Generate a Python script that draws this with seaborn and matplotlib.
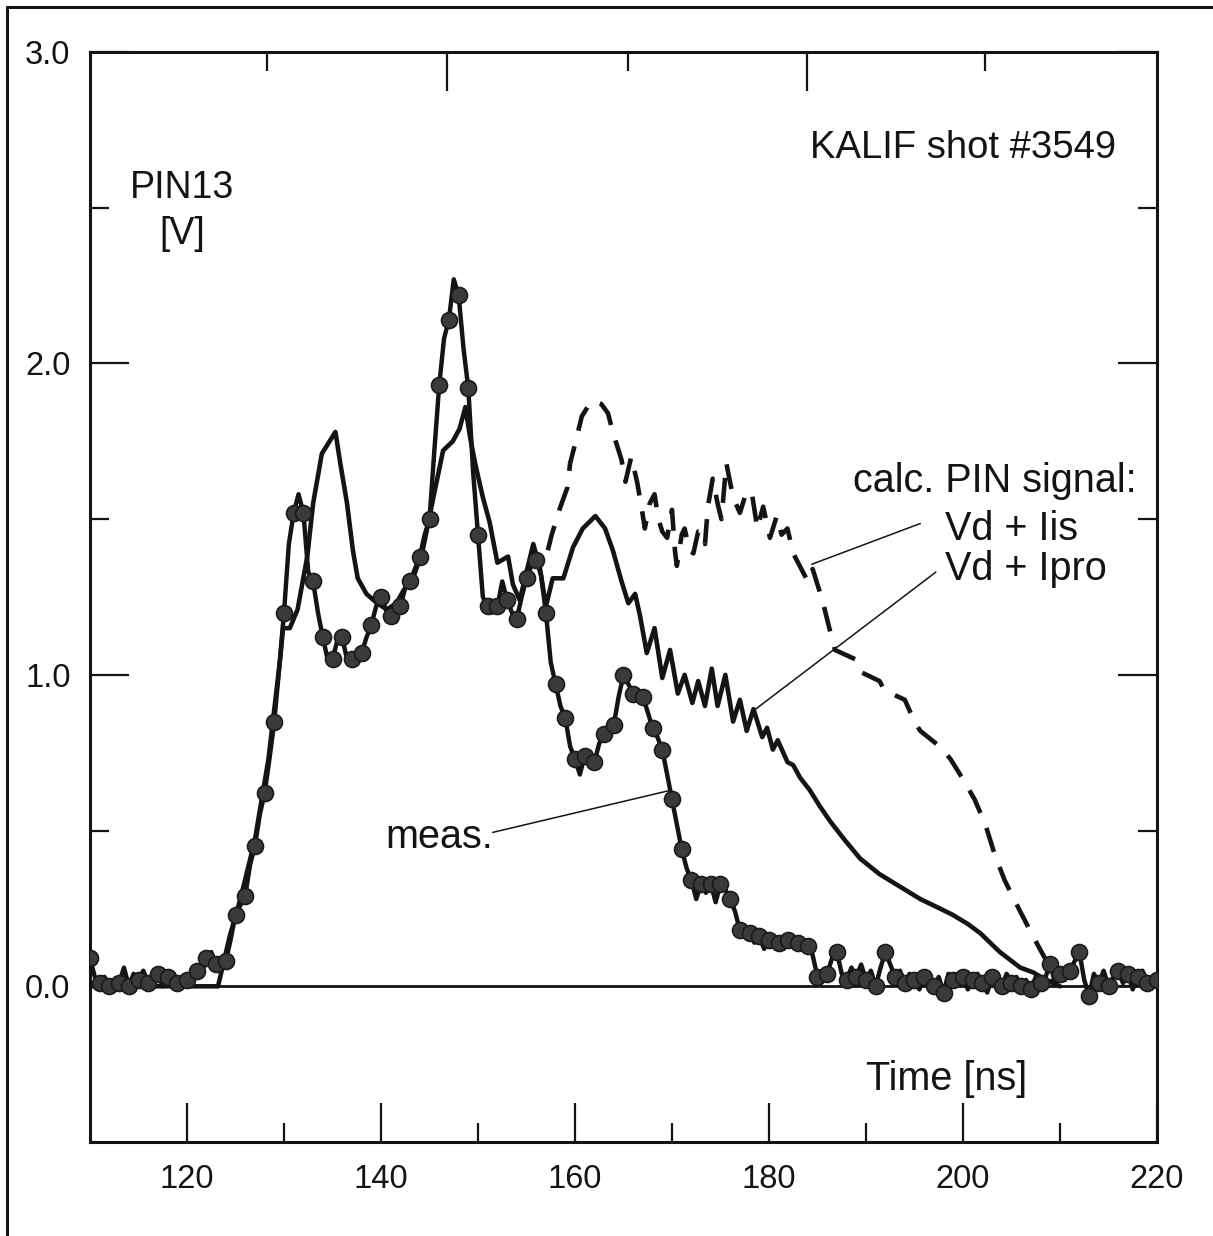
import numpy as np
import pandas as pd
import matplotlib
matplotlib.use("Agg")
import matplotlib.pyplot as plt
from matplotlib.lines import Line2D
from matplotlib.ticker import FixedLocator, NullFormatter
import seaborn as sns

# ---------------- data ----------------
# measured PIN13 signal, sampled every 0.5 ns from 110 to 220 ns
meas_time = np.linspace(110, 220, 221)
meas_volt = [
    0.09, 0.03, 0.01, 0.03, 0.00, 0.02, 0.01, 0.06, 0.00, 0.04, 0.02, 0.05, 0.01, 0.03, 0.04, 0.00, 0.03, 0.02, 0.01, 0.03,
    0.02, 0.02, 0.05, 0.04, 0.09, 0.11, 0.07, 0.09, 0.08, 0.15, 0.23, 0.26, 0.29, 0.39, 0.45, 0.55, 0.62, 0.73, 0.85, 1.02,
    1.20, 1.42, 1.52, 1.58, 1.52, 1.33, 1.30, 1.20, 1.12, 1.05, 1.05, 1.11, 1.12, 1.05, 1.05, 1.07, 1.07, 1.12, 1.16, 1.22,
    1.25, 1.21, 1.19, 1.17, 1.22, 1.28, 1.30, 1.34, 1.38, 1.45, 1.50, 1.72, 1.93, 2.08, 2.14, 2.27, 2.22, 2.05, 1.92, 1.65,
    1.45, 1.25, 1.22, 1.20, 1.22, 1.30, 1.24, 1.20, 1.18, 1.25, 1.31, 1.35, 1.37, 1.32, 1.20, 1.04, 0.97, 0.90, 0.86, 0.77,
    0.73, 0.68, 0.74, 0.71, 0.72, 0.78, 0.81, 0.82, 0.84, 0.93, 1.00, 0.97, 0.94, 0.95, 0.93, 0.88, 0.83, 0.80, 0.76, 0.68,
    0.60, 0.52, 0.44, 0.38, 0.34, 0.28, 0.33, 0.30, 0.33, 0.27, 0.33, 0.31, 0.28, 0.24, 0.18, 0.16, 0.17, 0.14, 0.16, 0.12,
    0.15, 0.13, 0.14, 0.12, 0.15, 0.13, 0.14, 0.12, 0.13, 0.10, 0.03, 0.05, 0.04, 0.09, 0.11, 0.04, 0.02, 0.06, 0.03, 0.07,
    0.02, 0.05, 0.00, 0.06, 0.11, 0.07, 0.03, 0.05, 0.01, 0.04, 0.02, -0.01, 0.03, 0.04, 0.00, 0.03, -0.02, 0.04, 0.02, 0.01,
    0.03, -0.01, 0.02, 0.04, 0.01, -0.02, 0.03, 0.02, 0.00, 0.04, 0.01, 0.03, 0.00, 0.02, -0.01, 0.03, 0.01, 0.03, 0.07, 0.01,
    0.04, 0.02, 0.05, 0.08, 0.11, 0.02, -0.03, 0.04, 0.01, 0.05, 0.00, 0.03, 0.05, 0.01, 0.04, -0.01, 0.03, 0.05, 0.01, 0.03,
    0.02,
]

# calculated signal: part common to both calculations
calc_common_time = [110.0, 123.2, 124.4, 125.5, 127.0, 128.4, 129.6, 129.9, 130.6, 131.4, 132.4, 133.0,
                    133.9, 134.5, 135.3, 135.8, 136.5, 137.1, 137.6, 138.5, 139.6, 140.6, 141.6, 142.3,
                    143.3, 144.3, 145.4, 146.4, 147.4, 148.1, 148.7, 149.2, 149.7, 150.5, 151.2, 152.0,
                    153.1, 153.6, 154.3, 155.7, 156.4]
calc_common_volt = [0.00, 0.00, 0.16, 0.28, 0.47, 0.73, 1.05, 1.15, 1.15, 1.21, 1.38, 1.55,
                    1.71, 1.74, 1.78, 1.68, 1.55, 1.40, 1.31, 1.26, 1.23, 1.21, 1.23, 1.27,
                    1.31, 1.40, 1.57, 1.72, 1.75, 1.79, 1.86, 1.76, 1.68, 1.57, 1.49, 1.36,
                    1.38, 1.29, 1.24, 1.42, 1.34]

# Vd + Ipro (solid) after the split
ipro_time = [157.0, 157.7, 158.8, 159.8, 160.8, 162.1, 163.1, 163.9, 164.8, 165.5, 166.2, 166.7,
             167.4, 168.2, 169.0, 169.8, 170.6, 171.3, 172.1, 172.7, 173.4, 174.1, 174.7, 175.5,
             176.3, 177.0, 177.7, 178.4, 179.3, 179.8, 180.4, 180.9, 181.9, 182.5, 183.2, 184.2,
             185.2, 186.3, 187.8, 189.4, 191.4, 193.5, 195.6, 197.6, 198.9, 200.5, 201.8, 203.8,
             205.9, 207.2, 208.6, 210.0]
ipro_volt = [1.22, 1.31, 1.31, 1.41, 1.47, 1.51, 1.47, 1.40, 1.30, 1.23, 1.26, 1.19,
             1.07, 1.15, 0.99, 1.08, 0.94, 1.00, 0.91, 0.98, 0.90, 1.02, 0.90, 1.00,
             0.85, 0.92, 0.82, 0.89, 0.80, 0.83, 0.76, 0.79, 0.72, 0.71, 0.67, 0.63,
             0.58, 0.53, 0.47, 0.41, 0.36, 0.32, 0.28, 0.25, 0.23, 0.20, 0.17, 0.11,
             0.06, 0.045, 0.02, 0.00]

# Vd + Iis (dashed) after the split
iis_time = [157.2, 157.6, 158.5, 159.2, 159.5, 160.0, 160.7, 161.5, 161.9, 162.7, 163.4, 163.9,
            164.8, 165.2, 165.8, 166.4, 166.9, 167.2, 167.7, 168.2, 168.6, 169.0, 169.5, 170.0,
            170.3, 170.5, 171.0, 171.3, 171.8, 172.2, 172.7, 173.1, 173.4, 173.7, 174.2, 174.7,
            175.1, 175.6, 176.3, 177.0, 177.6, 178.2, 178.8, 179.4, 180.1, 180.8, 181.3, 181.9,
            182.5, 183.5, 184.0, 184.5, 185.5, 186.3, 186.8, 188.9, 189.4, 191.4, 191.9, 194.0,
            195.0, 195.6, 197.6, 198.7, 199.7, 201.2, 202.3, 203.3, 204.3, 205.9, 207.4, 208.8,
            209.4]
iis_volt = [1.40, 1.45, 1.54, 1.60, 1.68, 1.74, 1.83, 1.87, 1.88, 1.87, 1.84, 1.78,
            1.69, 1.62, 1.70, 1.62, 1.53, 1.47, 1.55, 1.58, 1.50, 1.46, 1.44, 1.53,
            1.40, 1.35, 1.45, 1.47, 1.40, 1.39, 1.46, 1.46, 1.42, 1.54, 1.63, 1.55,
            1.50, 1.68, 1.57, 1.52, 1.58, 1.59, 1.47, 1.54, 1.44, 1.51, 1.45, 1.47,
            1.39, 1.33, 1.30, 1.34, 1.24, 1.14, 1.08, 1.05, 1.01, 0.98, 0.95, 0.92,
            0.85, 0.82, 0.77, 0.73, 0.68, 0.60, 0.52, 0.42, 0.34, 0.24, 0.15, 0.07,
            0.00]

x_major = [120, 140, 160, 180, 200, 220]
x_minor = [130, 150, 170, 190, 210]
x_labels = ["120", "140", "160", "180", "200", "220"]
top_major = [146.8, 183.9]
top_minor = [128.2, 165.5, 202.3]
y_major = [0.0, 1.0, 2.0, 3.0]
y_minor = [0.5, 1.5, 2.5]
y_labels = ["0.0", "1.0", "2.0", "3.0"]

# ---------------- figure ----------------
sns.set_theme(style="white")
plt.rcParams["font.family"] = ["Liberation Sans", "DejaVu Sans"]

INK = "#141414"
fig = plt.figure(figsize=(12.13, 12.36), dpi=100)
ax = fig.add_axes([90 / 1213, 1 - 1142 / 1236, (1157 - 90) / 1213, (1142 - 52) / 1236])

df_ipro = pd.DataFrame({"t": calc_common_time + ipro_time, "v": calc_common_volt + ipro_volt})
df_iis = pd.DataFrame({"t": iis_time, "v": iis_volt})
df_meas = pd.DataFrame({"t": meas_time, "v": meas_volt})

sns.lineplot(data=df_ipro, x="t", y="v", sort=False, estimator=None, ax=ax,
             color=INK, linewidth=3.3, zorder=3)
sns.lineplot(data=df_iis, x="t", y="v", sort=False, estimator=None, ax=ax,
             color=INK, linewidth=3.3, zorder=3)
ax.lines[-1].set_dashes((5.5, 3.5))
sns.lineplot(data=df_meas, x="t", y="v", sort=False, estimator=None, ax=ax,
             color=INK, linewidth=3.2, marker="o", markersize=11.5, markevery=2,
             markerfacecolor="#3a3a3a", markeredgecolor="#1a1a1a", markeredgewidth=1.2,
             zorder=4)

ax.axhline(0, color=INK, linewidth=2.0, zorder=2)

ax.set_xlim(110, 220)
ax.set_ylim(-0.5, 3.0)
ax.set_xlabel("")
ax.set_ylabel("")

# ticks
ax.xaxis.set_major_locator(FixedLocator(x_major))
ax.xaxis.set_minor_locator(FixedLocator(x_minor))
ax.set_xticklabels(x_labels)
ax.yaxis.set_major_locator(FixedLocator(y_major))
ax.yaxis.set_minor_locator(FixedLocator(y_minor))
ax.set_yticklabels(y_labels)
ax.tick_params(axis="both", which="both", direction="in", color=INK, width=1.6,
               bottom=True, left=True, right=True, top=False)
ax.tick_params(axis="both", which="major", length=28, labelsize=23.5, labelcolor=INK)
ax.tick_params(axis="both", which="minor", length=14)
ax.tick_params(axis="x", which="major", pad=16)
ax.tick_params(axis="y", which="major", pad=14)

sec = ax.secondary_xaxis("top")
sec.xaxis.set_major_locator(FixedLocator(top_major))
sec.xaxis.set_minor_locator(FixedLocator(top_minor))
sec.xaxis.set_major_formatter(NullFormatter())
sec.tick_params(axis="x", which="both", direction="in", color=INK, width=1.6, labeltop=False)
sec.tick_params(axis="x", which="major", length=28)
sec.tick_params(axis="x", which="minor", length=14)
sec.spines["top"].set_visible(False)

for s in ax.spines.values():
    s.set_color(INK)
    s.set_linewidth(2.2)

# texts
fs = 28.5
ax.text(184.2, 2.66, "KALIF shot #3549", fontsize=fs - 1, color=INK, ha="left", va="baseline")
ax.text(119.5, 2.53, "PIN13", fontsize=fs - 1.5, color=INK, ha="center", va="baseline")
ax.text(119.5, 2.385, "[V]", fontsize=fs - 1.5, color=INK, ha="center", va="baseline")
ax.text(188.7, 1.586, "calc. PIN signal:", fontsize=fs, color=INK, ha="left", va="baseline")
ax.text(198.1, 1.432, "Vd + Iis", fontsize=fs, color=INK, ha="left", va="baseline")
ax.text(198.1, 1.303, "Vd + Ipro", fontsize=fs, color=INK, ha="left", va="baseline")
ax.text(140.4, 0.443, "meas.", fontsize=fs, color=INK, ha="left", va="baseline")
ax.text(190.0, -0.334, "Time [ns]", fontsize=fs, color=INK, ha="left", va="baseline")

# leader lines
ax.annotate("", xy=(184.4, 1.355), xytext=(195.6, 1.486),
            arrowprops=dict(arrowstyle="-", color=INK, lw=1.1, shrinkA=0, shrinkB=0))
ax.annotate("", xy=(178.2, 0.88), xytext=(197.2, 1.33),
            arrowprops=dict(arrowstyle="-", color=INK, lw=1.1, shrinkA=0, shrinkB=0))
ax.annotate("", xy=(169.8, 0.629), xytext=(151.5, 0.494),
            arrowprops=dict(arrowstyle="-", color=INK, lw=1.1, shrinkA=0, shrinkB=0))

# outer frame (left and top edges)
fig.add_artist(Line2D([7 / 1213, 7 / 1213], [0, 1 - 7 / 1236], transform=fig.transFigure,
                      color=INK, linewidth=2.2))
fig.add_artist(Line2D([7 / 1213, 1], [1 - 7 / 1236, 1 - 7 / 1236], transform=fig.transFigure,
                      color=INK, linewidth=2.2))

fig.savefig("out.png", dpi=100, facecolor="white")
